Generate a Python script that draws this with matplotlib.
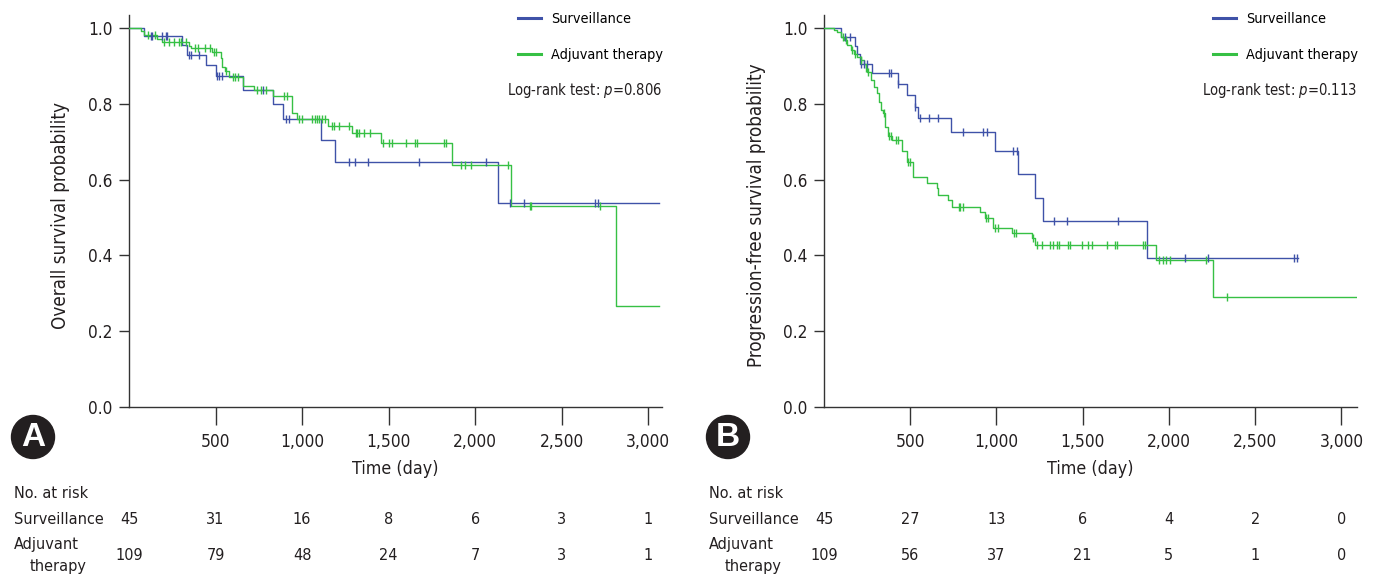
import numpy as np
import matplotlib
matplotlib.use('Agg')
import matplotlib.pyplot as plt
from matplotlib.transforms import blended_transform_factory

# ---------------------------------------------------------------------------
# Colours / font
# ---------------------------------------------------------------------------
BLUE = '#3f52a8'
GREEN = '#36c044'
DARK = '#231f20'
plt.rcParams['font.family'] = ['DejaVu Sans']
plt.rcParams['font.stretch'] = 'condensed'

# ---------------------------------------------------------------------------
# Data (days, survival probability)
# ---------------------------------------------------------------------------
GROUPS = ['Surveillance', 'Adjuvant therapy']
TICKS = [500, 1000, 1500, 2000, 2500, 3000]
TICK_LABELS = ['500', '1,000', '1,500', '2,000', '2,500', '3,000']
RISK_TIMES = [0, 500, 1000, 1500, 2000, 2500, 3000]

# Panel A: overall survival
A_SURV_T = [0, 87, 308, 337, 447, 501, 659, 832, 890, 1108, 1191, 2133, 3064]
A_SURV_S = [1.0, 0.978, 0.956, 0.929, 0.901, 0.872, 0.836, 0.799, 0.760,
            0.703, 0.646, 0.537, 0.537]
A_SURV_CENS = [125, 135, 192, 212, 221, 347, 358, 405, 510, 522, 540, 775,
               906, 925, 1272, 1305, 1382, 1676, 2062, 2202, 2285, 2694, 2711]

A_ADJ_T = [0, 68, 87, 164, 192, 347, 357, 482, 530, 539, 555, 578, 659, 723,
           832, 944, 973, 1149, 1291, 1455, 1869, 2210, 2817, 3064]
A_ADJ_S = [1.0, 0.991, 0.982, 0.972, 0.963, 0.953, 0.946, 0.9375, 0.92, 0.898,
           0.885, 0.8715, 0.848, 0.836, 0.8206, 0.775, 0.760, 0.742, 0.722,
           0.696, 0.6385, 0.530, 0.267, 0.267]
A_ADJ_CENS = [110, 150, 200, 230, 260, 290, 300, 330, 380, 400, 440, 470, 490,
              505, 560, 600, 615, 630, 740, 760, 790, 895, 915, 980, 1000,
              1060, 1075, 1085, 1100, 1115, 1130, 1175, 1185, 1215, 1270,
              1310, 1320, 1330, 1360, 1390, 1470, 1500, 1520, 1600, 1650,
              1665, 1820, 1830, 1920, 1940, 1975, 2190, 2315, 2325, 2720]

A_RISK_SURV = [45, 31, 16, 8, 6, 3, 1]
A_RISK_ADJ = [109, 79, 48, 24, 7, 3, 1]
A_PVALUE = '0.806'

# Panel B: progression-free survival
B_SURV_T = [0, 100, 178, 193, 209, 280, 429, 479, 528, 547, 734, 991, 1126,
            1223, 1268, 1872, 2748]
B_SURV_S = [1.0, 0.976, 0.9525, 0.93, 0.906, 0.882, 0.853, 0.823, 0.792,
            0.762, 0.7265, 0.6755, 0.614, 0.552, 0.4916, 0.393, 0.393]
B_SURV_CENS = [120, 151, 213, 232, 248, 377, 387, 431, 528, 557, 610, 659,
               808, 923, 947, 1097, 1117, 1335, 1407, 1703, 2093, 2228, 2726,
               2740]

B_ADJ_T = [0, 58, 77, 97, 116, 135, 155, 174, 193, 213, 232, 242, 251, 271,
           290, 309, 319, 329, 344, 354, 371, 394, 450, 479, 518, 595, 653,
           663, 721, 740, 904, 933, 981, 1088, 1204, 1223, 1925, 2257, 3088]
B_ADJ_S = [1.0, 0.995, 0.989, 0.976, 0.967, 0.954, 0.941, 0.932, 0.9235, 0.915,
           0.906, 0.893, 0.884, 0.862, 0.844, 0.827, 0.805, 0.783, 0.775,
           0.7396, 0.715, 0.705, 0.674, 0.647, 0.6077, 0.590, 0.577, 0.559,
           0.546, 0.527, 0.515, 0.498, 0.4714, 0.458, 0.445, 0.428, 0.388,
           0.291, 0.291]
B_ADJ_CENS = [110, 125, 160, 180, 215, 245, 255, 350, 375, 390, 420, 430, 485,
              500, 780, 790, 805, 940, 950, 990, 1010, 1100, 1115, 1210, 1233,
              1262, 1310, 1330, 1349, 1365, 1417, 1426, 1493, 1532, 1551,
              1638, 1687, 1700, 1847, 1860, 1945, 1965, 1985, 2005, 2215,
              2338]

B_RISK_SURV = [45, 27, 13, 6, 4, 2, 0]
B_RISK_ADJ = [109, 56, 37, 21, 5, 1, 0]
B_PVALUE = '0.113'


def px(x, y):
    """Pixel position (from top-left) to figure fraction."""
    return x / 1382, 1 - y / 575


def km(ax, t, s, cens, color):
    t = np.asarray(t, float)
    s = np.asarray(s, float)
    ax.step(t, s, where='post', color=color, lw=1.0, zorder=3)
    idx = np.searchsorted(t, cens, side='right') - 1
    ax.plot(cens, s[idx], ls='none', marker='|', ms=6, mew=1.0,
            color=color, zorder=4)


def panel(fig, left, xmax, ylabel, curves, pvalue, risk, letter, ylab_x):
    ax = fig.add_axes([left / 1382, 1 - 407 / 575, 533 / 1382, 392 / 575])
    for (t, s, c), col in zip(curves, [BLUE, GREEN]):
        km(ax, t, s, c, col)
    ax.set_xlim(0, xmax)
    ax.set_ylim(0, 1.034)
    ax.set_xticks(TICKS)
    ax.set_xticklabels(TICK_LABELS)
    ax.set_yticks(np.arange(0, 1.01, 0.2))
    ax.set_yticklabels([f'{v:.1f}' for v in np.arange(0, 1.01, 0.2)])
    ax.tick_params(axis='x', length=13, width=1, pad=6, labelsize=12.4,
                   color='#333333', labelcolor=DARK)
    ax.tick_params(axis='y', length=7, width=1, pad=5, labelsize=12.4,
                   color='#333333', labelcolor=DARK)
    for side in ('top', 'right'):
        ax.spines[side].set_visible(False)
    for side in ('left', 'bottom'):
        ax.spines[side].set_color('#333333')
        ax.spines[side].set_linewidth(1.0)
    ax.set_xlabel('Time (day)', fontsize=12.8, color=DARK, labelpad=6)
    fig.text(*px(ylab_x, 215), ylabel, rotation=90, ha='center', va='center',
             fontsize=13.5, color=DARK)

    # legend and log-rank test
    handles = [plt.Line2D([], [], color=BLUE, lw=2.2),
               plt.Line2D([], [], color=GREEN, lw=2.2)]
    ax.legend(handles, GROUPS, loc='upper left', frameon=False,
              bbox_to_anchor=px(left + 389, 12), bbox_transform=fig.transFigure,
              fontsize=10.4, handlelength=1.6, handletextpad=0.7,
              labelspacing=1.5, borderaxespad=0, borderpad=0)
    fig.text(*px(left + 533, 90), f'Log-rank test: $\\it{{p}}$={pvalue}',
             ha='right', va='center', fontsize=10.6, color=DARK)

    # circled panel letter
    fig.text(*px(left - 96, 437), letter, ha='center', va='center',
             fontsize=24, fontweight='bold', color='white',
             family=['Liberation Sans', 'DejaVu Sans'], stretch='normal',
             bbox=dict(boxstyle='circle,pad=0.18', fc=DARK, ec=DARK))

    # number at risk table
    tr = blended_transform_factory(ax.transData, fig.transFigure)
    x0 = (left - 115) / 1382
    kw = dict(fontsize=11.6, color=DARK, va='center')
    fig.text(x0, 1 - 494 / 575, 'No. at risk', ha='left', **kw)
    fig.text(x0, 1 - 520 / 575, 'Surveillance', ha='left', **kw)
    fig.text(x0, 1 - 545 / 575, 'Adjuvant', ha='left', **kw)
    fig.text(x0 + 16 / 1382, 1 - 567 / 575, 'therapy', ha='left', **kw)
    for tm, n1, n2 in zip(RISK_TIMES, risk[0], risk[1]):
        ax.text(tm, 1 - 520 / 575, str(n1), transform=tr, ha='center', **kw)
        ax.text(tm, 1 - 555 / 575, str(n2), transform=tr, ha='center', **kw)
    return ax


fig = plt.figure(figsize=(13.82, 5.75), dpi=100)

panel(fig, 129, 3080, 'Overall survival probability',
      [(A_SURV_T, A_SURV_S, A_SURV_CENS), (A_ADJ_T, A_ADJ_S, A_ADJ_CENS)],
      A_PVALUE, (A_RISK_SURV, A_RISK_ADJ), 'A', 60)
panel(fig, 824, 3090, 'Progression-free survival probability',
      [(B_SURV_T, B_SURV_S, B_SURV_CENS), (B_ADJ_T, B_ADJ_S, B_ADJ_CENS)],
      B_PVALUE, (B_RISK_SURV, B_RISK_ADJ), 'B', 757)

fig.savefig('out.png', dpi=100, facecolor='white')
